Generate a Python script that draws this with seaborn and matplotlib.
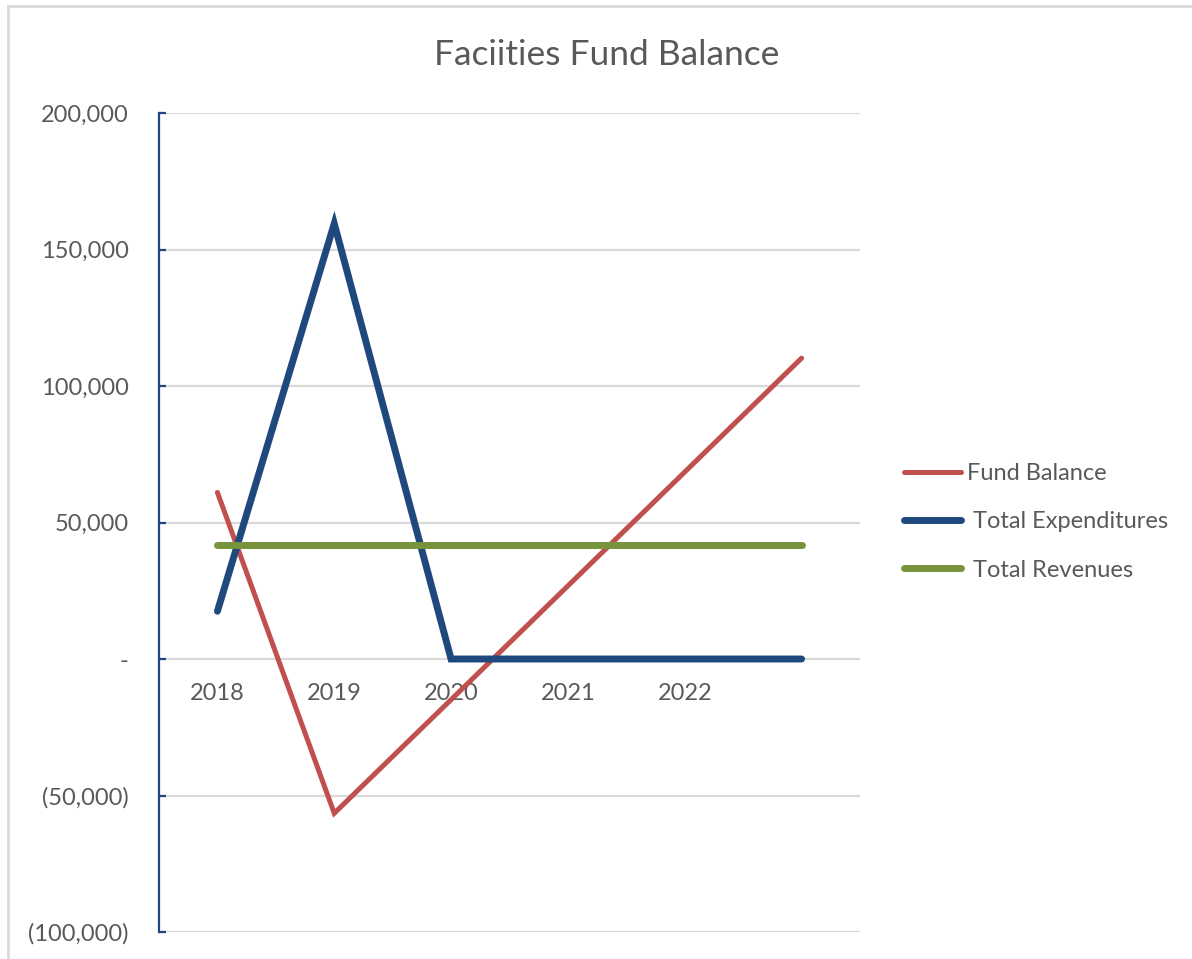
import matplotlib
matplotlib.use("Agg")
import matplotlib.pyplot as plt
import matplotlib.patches as mpatches
import pandas as pd
import seaborn as sns

# chart data
years = ["2018", "2019", "2020", "2021", "2022", ""]
fund_balance = [61000, -56500, -14900, 26800, 68500, 110200]
total_expenditures = [17500, 159500, 0, 0, 0, 0]
total_revenues = [41600, 41600, 41600, 41600, 41600, 41600]

series_names = ["Fund Balance", " Total Expenditures", " Total Revenues"]
colors = {"Fund Balance": "#C0504D", " Total Expenditures": "#1F497D", " Total Revenues": "#77933C"}
widths = {"Fund Balance": 3.6, " Total Expenditures": 5.0, " Total Revenues": 5.0}

sns.set_style("white")
plt.rcParams['font.family'] = ['Lato', 'DejaVu Sans']

df = pd.DataFrame({
    "idx": list(range(len(years))) * 3,
    "value": fund_balance + total_expenditures + total_revenues,
    "series": sum([[s] * len(years) for s in series_names], []),
})

fig = plt.figure(figsize=(11.92, 9.59), dpi=100)
ax = fig.add_axes([159 / 1192, 1 - 932 / 959, (860 - 159) / 1192, (932 - 113) / 959])

# light grey chart border
fig.patches.append(mpatches.Rectangle((8 / 1192, -0.01), 1.0, 1 - 6 / 959 + 0.01,
                                      transform=fig.transFigure, fill=False,
                                      edgecolor="#D9D9D9", linewidth=2))

for s in series_names:
    sub = df[df["series"] == s]
    sns.lineplot(data=sub, x="idx", y="value", ax=ax, color=colors[s],
                 linewidth=widths[s], label=s, solid_capstyle="round",
                 solid_joinstyle="miter")

ax.set_xlim(-0.5, 5.5)
ax.set_ylim(-100000, 200000)
ax.set_yticks(range(-100000, 200001, 50000))


def fmt(v):
    if v == 0:
        return "-"
    if v < 0:
        return f"({abs(v):,})"
    return f"{v:,}"


ax.set_yticklabels([fmt(v) for v in range(-100000, 200001, 50000)])
ax.yaxis.grid(True, color="#D9D9D9", linewidth=1.6)
ax.set_axisbelow(True)

ax.set_xticks(range(len(years)))
ax.set_xticklabels(years)
ax.spines["bottom"].set_position(("data", 0))
ax.spines["bottom"].set_color("none")
for side in ["top", "right"]:
    ax.spines[side].set_visible(False)
ax.spines["left"].set_color("#1F497D")
ax.spines["left"].set_linewidth(1.6)

ax.tick_params(axis="x", length=0, pad=17, labelsize=17, labelcolor="#595959")
ax.tick_params(axis="y", direction="in", length=5, width=1.6, color="#1F497D",
               pad=22, labelsize=17, labelcolor="#595959", left=True)
ax.set_xlabel("")
ax.set_ylabel("")

fig.text(607 / 1192, 1 - 55 / 959, "Faciities Fund Balance", ha="center", va="center",
         fontsize=25.5, color="#595959")

ax.legend(loc="center left", bbox_to_anchor=(904 / 1192, 1 - 522 / 959),
          bbox_transform=fig.transFigure, frameon=False, fontsize=17,
          handlelength=2.4, handletextpad=0.25, labelspacing=1.15,
          borderaxespad=0, borderpad=0, labelcolor="#595959")

fig.savefig("out.png", dpi=100)
